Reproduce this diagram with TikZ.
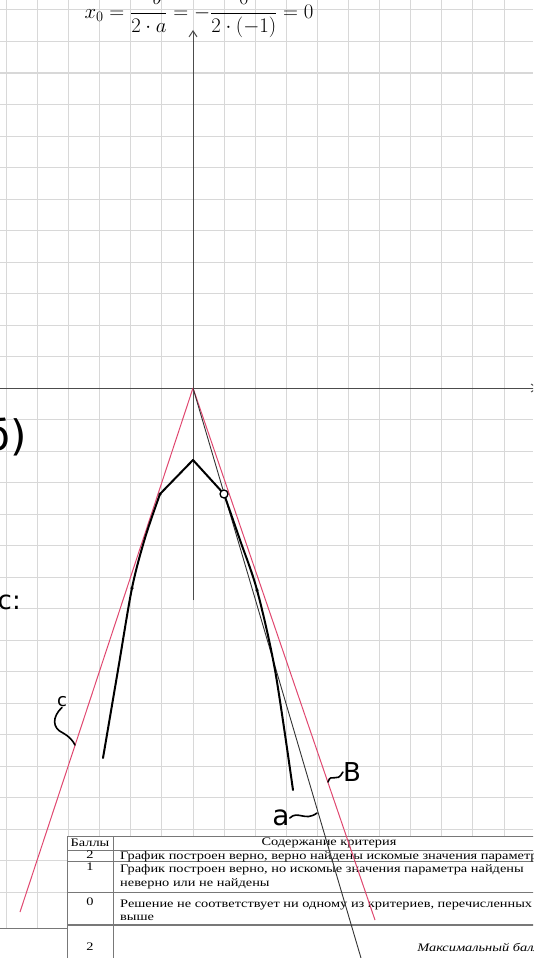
\documentclass[tikz,border=0pt]{standalone}
\usepackage{amsmath}
\usepackage{fontspec}
\setmainfont{Liberation Serif}
\newfontfamily\handfont{DejaVu Sans}
\usepackage{graphicx}
\usetikzlibrary{positioning,arrows.meta}

\definecolor{gridgray}{RGB}{216,216,216}
\definecolor{tangentred}{RGB}{224,72,112}
\definecolor{rulegray}{RGB}{120,120,120}

% table text is wide in the scan
\newcommand{\widetext}[1]{\scalebox{1.25}[1]{#1}}

\begin{document}
\begin{tikzpicture}[x=1pt,y=-1pt,>={Straight Barb[length=6pt,width=8pt]},
    hand/.style={font=\handfont\fontsize{28}{30}\selectfont, inner sep=0pt},
    cell/.style={font=\fontsize{11.5}{13}\selectfont, inner sep=0pt},
    gridline/.style={draw=gridgray, line width=1pt},
    axisline/.style={draw=black!70, line width=1pt},
    tangent/.style={draw=tangentred, line width=1pt},
    curve/.style={line width=2pt, line join=round, line cap=round},
    squiggle/.style={line width=1.6pt, line cap=round},
    dot/.style={circle, fill=black, inner sep=0pt, minimum size=3.5pt}]
  \clip (0,0) rectangle (533,958);

  % squared paper
  \begin{scope}
    \clip (0,0) rectangle (533,928);
    \foreach \i in {-6,...,11}
      \draw[gridline] ({193+31.1*\i},0) -- ({193+31.1*\i},928);
    \foreach \j in {-12,...,16}
      \draw[gridline] (0,{388+31.5*\j}) -- (533,{388+31.5*\j});
  \end{scope}
  \draw[draw=rulegray] (0,928) -- (67,928);

  % table of criteria
  \fill[white] (67,836) rectangle (545,965);
  \draw[rulegray] (67,836) rectangle (545,965);
  \draw[rulegray] (113,836) -- (113,965);
  \foreach \r in {850,861,892}
    \draw[rulegray] (67,\r) -- (545,\r);
  \draw[rulegray, line width=1.2pt] (67,925) -- (545,925);

  \node[cell] (headPts)  at (90,843)  {\widetext{Баллы}};
  \node[cell] (headText) at (329,843) {\widetext{Содержание критерия}};
  \node[cell] (pts2)     at (90,855)  {\widetext{2}};
  \node[cell, anchor=base west] (text2) at (120,859)
    {\widetext{График построен верно, верно найдены искомые значения параметра}};
  \node[cell] (pts1)     at (90,867)  {\widetext{1}};
  \node[cell, anchor=base west] (text1a) at (120,872)
    {\widetext{График построен верно, но искомые значения параметра найдены}};
  \node[cell, anchor=base west] (text1b) at (120,886)
    {\widetext{неверно или не найдены}};
  \node[cell] (pts0)     at (90,902)  {\widetext{0}};
  \node[cell, anchor=base west] (text0a) at (120,907)
    {\widetext{Решение не соответствует ни одному из критериев, перечисленных}};
  \node[cell, anchor=base west] (text0b) at (120,920)
    {\widetext{выше}};
  \node[cell] (ptsMax)   at (90,947)  {\widetext{2}};
  \node[cell, anchor=base east] (textMax) at (540,951)
    {\widetext{\itshape Максимальный балл}};

  % axes
  \coordinate (O) at (193,388);
  \coordinate (yTop) at (193,30);
  \coordinate (yBot) at (193,600);
  \coordinate (xLeft) at (0,388);
  \coordinate (xRight) at (538,388);
  \draw[axisline,->] (yBot) -- (yTop);
  \draw[axisline,->] (xLeft) -- (xRight);

  % lines through the origin
  \coordinate (cEnd) at (20,912);
  \coordinate (bEnd) at (375,920);
  \coordinate (aEnd) at (361,958);
  \draw[tangent] (O) -- (cEnd);
  \draw[tangent] (O) -- (bEnd);
  \draw[black!80, line width=0.9pt] (O) -- (aEnd);

  % the parabola
  \coordinate (V) at (193,460);
  \coordinate (L1) at (160,494);
  \coordinate (L2) at (132,588);
  \coordinate (R1) at (224,494);
  \coordinate (R2) at (257,590);
  \draw[curve] plot[smooth] coordinates {(103,758) (118,670) (L2) (145,538) (L1)};
  \draw[curve] (L1) -- (V) -- (R1);
  \draw[curve] plot[smooth] coordinates {(R1) (240,540) (R2) (275,670) (293,790)};
  \node[dot] (pL1) at (L1) {};
  \node[dot] (pL2) at (L2) {};
  \node[dot] (pR2) at (R2) {};
  \node[circle, draw, line width=1.3pt, fill=white, inner sep=0pt, minimum size=8pt] (pR1) at (R1) {};

  % handwriting
  \node[hand, font=\fontsize{21.5}{25}\selectfont] (formula) at (199,14)
    {$x_0=\dfrac{-b}{2\cdot a}=-\dfrac{0}{2\cdot(-1)}=0$};
  \node[hand, font=\handfont\fontsize{42}{44}\selectfont, anchor=east] (partB) at (27,437) {б)};
  \node[hand, font=\handfont\fontsize{26}{28}\selectfont, anchor=east] (partC) at (21,602) {c:};

  \node[hand, font=\handfont\fontsize{18}{20}\selectfont] (cLabel) at (62,702) {c};
  \coordinate (cTouch) at (75,745);
  \draw[squiggle] (cLabel.south) .. controls (52,717) and (52,728) .. (63,733)
    .. controls (70,737) and (73,741) .. (cTouch);

  \node[hand, font=\handfont\fontsize{26}{28}\selectfont] (bLabel) at (352,772) {B};
  \coordinate (bTouch) at (328,782);
  \draw[squiggle] (bTouch) .. controls (331,772) and (337,784) .. (bLabel.west);

  \node[hand] (aLabel) at (281,818) {a};
  \coordinate (aTouch) at (317,813);
  \draw[squiggle] (aLabel.east) .. controls (298,810) and (305,822) .. (aTouch);
\end{tikzpicture}
\end{document}
